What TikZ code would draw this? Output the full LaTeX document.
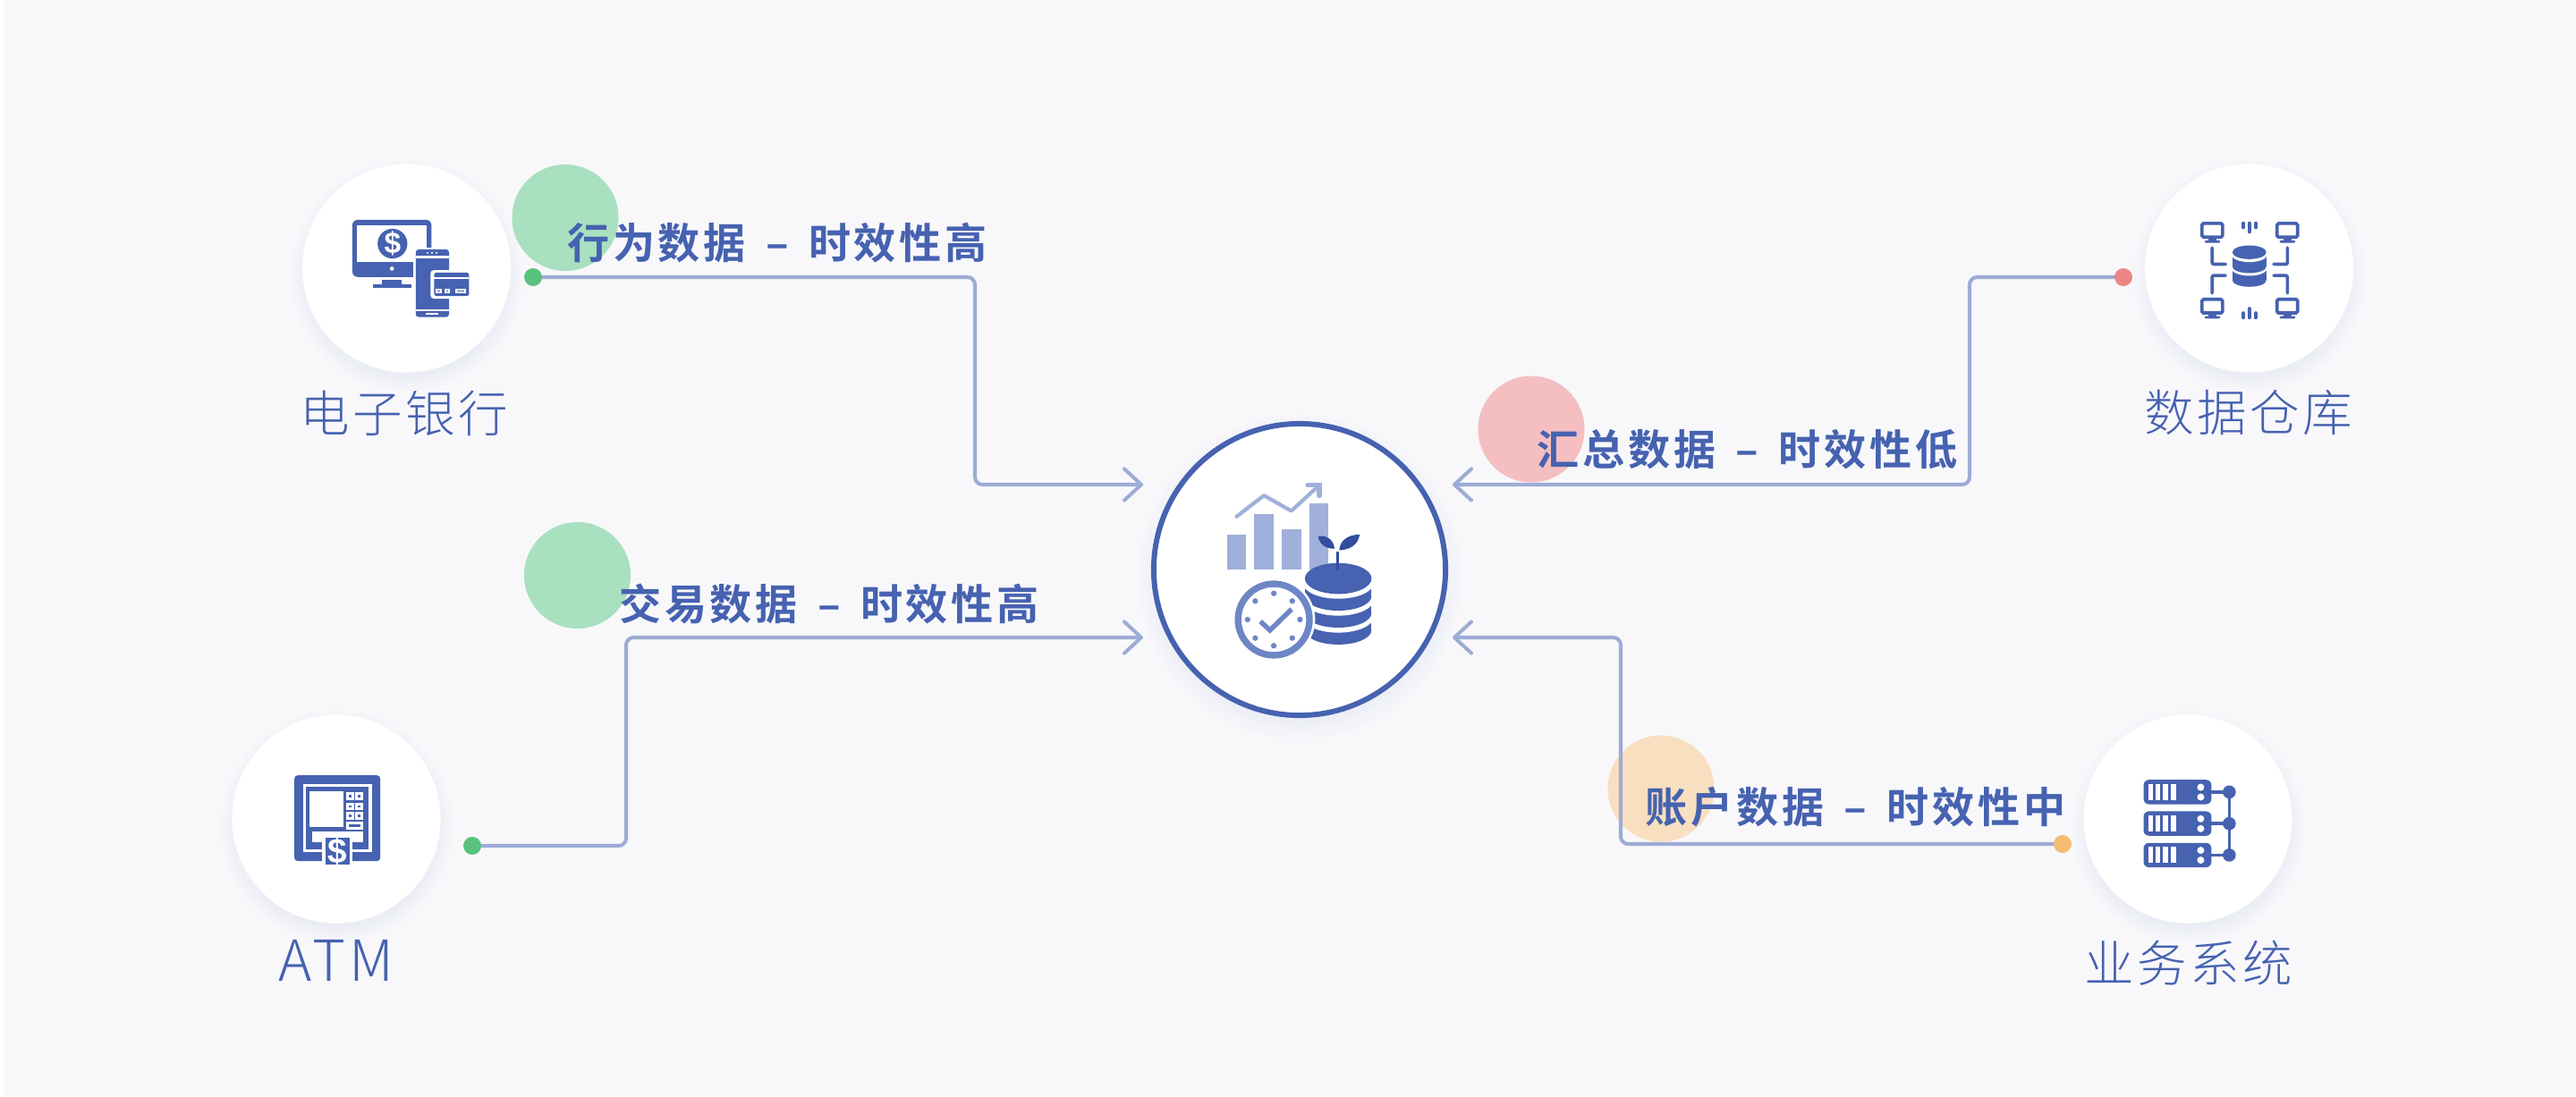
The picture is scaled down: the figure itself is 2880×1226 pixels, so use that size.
\documentclass[tikz,border=0pt]{standalone}
\usepackage{fontspec}
\usetikzlibrary{arrows.meta,shadows}
\setsansfont{Liberation Sans}
\newfontfamily\edgefont[UprightFont=* Bold,LetterSpace=8]{Noto Sans CJK SC}
\newfontfamily\hubfont[UprightFont=* Light,LetterSpace=6]{Noto Sans CJK SC}
\definecolor{pagebg}{HTML}{F8F8FB}
\definecolor{mainblue}{HTML}{4662B0}
\definecolor{linkblue}{HTML}{9DACD5}
\definecolor{palebar}{HTML}{A0B0DA}
\definecolor{clockblue}{HTML}{6E86C5}
\definecolor{leafblue}{HTML}{304D9F}
\newcommand{\gapdash}{\hspace{2.2pt} – \hspace{2.2pt}}
\tikzset{
	hub/.style={circle,fill=white,inner sep=0pt,minimum size=2.33cm,
		circular drop shadow={shadow xshift=0pt,shadow yshift=-2pt,shadow scale=1.12,fill=mainblue,opacity=.07}},
	hubtext/.style={text=mainblue,font=\hubfont\fontsize{15.8pt}{18pt}\selectfont,inner sep=0pt},
	edgetext/.style={text=mainblue,font=\edgefont\fontsize{13.4pt}{16pt}\selectfont,inner sep=0pt},
	blob/.style={circle,inner sep=0pt,minimum size=1.19cm},
	dot/.style={circle,inner sep=0pt,minimum size=0.2cm},
	link/.style={draw=linkblue,line width=1.15pt,rounded corners=2.4pt,line cap=round},
	tipped/.style={link,-{Straight Barb[length=5.4pt,width=10pt,line width=1.15pt,round]}},
	icon/.style={x=0.003333cm,y=-0.003333cm},
	iconline/.style={draw=mainblue,line width=1.05pt}
}
\begin{document}
\begin{tikzpicture}[x=0.01cm,y=-0.01cm]
	\useasboundingbox (0,0) rectangle (2880,1226);
	\fill [white] (0,0) rectangle (2880,1226);
	\fill [pagebg] (5,0) rectangle (2880,1226);

	\node [blob,fill={rgb,255:red,169;green,224;blue,191}] (blobbank) at (632,243.5) {};
	\node [blob,fill={rgb,255:red,169;green,224;blue,191}] (blobatm) at (645.5,643.5) {};
	\node [blob,fill={rgb,255:red,245;green,191;blue,193}] (blobstore) at (1712,480) {};
	\node [blob,fill={rgb,255:red,248;green,223;blue,192}] (blobserver) at (1857,882) {};

	\node [hub] (bank) at (454.6,300) {};
	\node [hub] (atm) at (376,916) {};
	\node [hub] (store) at (2514.6,300) {};
	\node [hub] (server) at (2446,916) {};
	\node [hub,draw=mainblue,line width=1.7pt,minimum size=3.26cm] (core) at (1453,637) {};

	\coordinate (tipbank) at (1278,542);
	\coordinate (tipatm) at (1278,713);
	\coordinate (tipstore) at (1624,542);
	\coordinate (tipserver) at (1624,713);
	\coordinate (bendbank) at (1090,426);
	\coordinate (bendatm) at (700,830);
	\coordinate (bendstore) at (2202,426);
	\coordinate (bendserver) at (1812,830);

	\node [dot] (dotbank) at (596,310) {};
	\node [dot] (dotatm) at (528,946) {};
	\node [dot] (dotstore) at (2374,310) {};
	\node [dot] (dotserver) at (2306,944) {};

	\draw [tipped] (dotbank.center) -| (bendbank) |- (tipbank);
	\draw [tipped] (dotatm.center) -| (bendatm) |- (tipatm);
	\draw [tipped] (dotstore.center) -| (bendstore) |- (tipstore);
	\draw [tipped] (dotserver.center) -| (bendserver) |- (tipserver);

	\fill [fill={rgb,255:red,89;green,194;blue,125}] (dotbank) circle [radius=10];
	\fill [fill={rgb,255:red,89;green,194;blue,125}] (dotatm) circle [radius=10];
	\fill [fill={rgb,255:red,238;green,133;blue,133}] (dotstore) circle [radius=10];
	\fill [fill={rgb,255:red,246;green,188;blue,116}] (dotserver) circle [radius=10];

	\node [edgetext] (edgebank) at (869,272) {行为数据\gapdash 时效性高};
	\node [edgetext] (edgeatm) at (927,675) {交易数据\gapdash 时效性高};
	\node [edgetext] (edgestore) at (1953.5,503) {汇总数据\gapdash 时效性低};
	\node [edgetext] (edgeserver) at (2074.5,903) {账户数据\gapdash 时效性中};

	\node [hubtext] (namebank) at (452,462) {电子银行};
	\node [hubtext,font=\hubfont\fontsize{18pt}{20pt}\selectfont] (nameatm) at (376,1074) {ATM};
	\node [hubtext] (namestore) at (2514,462) {数据仓库};
	\node [hubtext] (nameserver) at (2446.5,1077) {业务系统};

	% bank icon
	\begin{scope}[shift={(320,170)},icon]
		\fill [mainblue,rounded corners=1.7pt] (222,228) rectangle (488,420);
		\fill [white] (238,245) rectangle (472,370);
		\fill [mainblue] (357,308) circle [radius=50];
		\node [text=white,font=\sffamily\bfseries\fontsize{9.5pt}{11pt}\selectfont,inner sep=0pt] (bankdollar) at (357,308) {\$};
		\fill [white] (355,392) circle [radius=7];
		\fill [mainblue] (322,430) rectangle (388,446);
		\fill [mainblue] (290,445) rectangle (420,458);
		\fill [white] (427,320) rectangle (555,562);
		\fill [mainblue,rounded corners=1pt] (435,327) rectangle (547,555);
		\fill [white] (435,350) rectangle (547,358);
		\fill [white] (435,530) rectangle (547,535);
		\fill [white] (470,541) rectangle (510,547);
		\foreach \dotx in {475,490,505}
			\fill [white] (\dotx,339) circle [radius=3.5];
		\fill [white,rounded corners=1pt] (485,397) rectangle (622,493);
		\fill [mainblue,rounded corners=.7pt] (497,405) rectangle (614,484);
		\fill [white] (497,420) rectangle (614,428);
		\foreach \padl/\padr in {503/522,531/550,567/605} {
			\fill [white] (\padl,459) rectangle (\padr,476);
			\fill [mainblue] (\padl+6,465) rectangle (\padr-6,470);
		}
	\end{scope}

	% atm icon
	\begin{scope}[shift={(240,790)},icon]
		\fill [mainblue,rounded corners=1pt] (268,232) rectangle (556,520);
		\draw [white,line width=.95pt] (301,265) rectangle (523,485);
		\fill [white] (320,285) rectangle (432,405);
		\foreach \keyy in {289,323,356}
			\foreach \keyx in {442,472} {
				\fill [white] (\keyx,\keyy) rectangle (\keyx+26,\keyy+26);
				\fill [mainblue] (\keyx+9,\keyy+9) rectangle (\keyx+17,\keyy+17);
			}
		\fill [white] (442,388) rectangle (498,415);
		\fill [mainblue] (451,397) rectangle (489,406);
		\fill [white] (328,420) rectangle (498,458);
		\fill [white] (362,432) rectangle (464,525);
		\fill [mainblue] (372,442) rectangle (455,532);
		\node [text=white,font=\sffamily\bfseries\fontsize{11pt}{12pt}\selectfont,inner sep=0pt] (atmdollar) at (413,488) {\$};
	\end{scope}

	% store icon
	\begin{scope}[shift={(2380,170)},icon]
		\foreach \dx/\dy in {0/0,252/0,0/255,252/255} {
			\draw [iconline,rounded corners=.5pt] (246+\dx,240+\dy) rectangle (315+\dx,286+\dy);
			\fill [mainblue] (268+\dx,286+\dy) rectangle (294+\dx,298+\dy);
			\fill [mainblue,rounded corners=.3pt] (255+\dx,297+\dy) rectangle (307+\dx,305+\dy);
		}
		\draw [iconline,line cap=round,rounded corners=.6pt] (280,322) -- (280,377) -- (325,377);
		\draw [iconline,line cap=round,rounded corners=.6pt] (533,322) -- (533,377) -- (487,377);
		\draw [iconline,line cap=round,rounded corners=.6pt] (325,415) -- (280,415) -- (280,474);
		\draw [iconline,line cap=round,rounded corners=.6pt] (487,415) -- (533,415) -- (533,474);
		\foreach \tickx/\ticka/\tickb in {385/239/254,405/239/269,427/239/254,385/541/557,405/526/557,427/541/557}
			\draw [iconline,line cap=round] (\tickx,\ticka) -- (\tickx,\tickb);
		\foreach \off in {46,0} {
			\fill [mainblue] (348,352+\off) rectangle (462,385+\off);
			\fill [mainblue] (405,385+\off) ellipse [x radius=57,y radius=22];
			\fill [white] (405,345+\off) ellipse [x radius=60,y radius=25];
		}
		\fill [mainblue] (405,337) ellipse [x radius=57,y radius=23];
	\end{scope}

	% server icon
	\begin{scope}[shift={(2300,790)},icon]
		\draw [iconline] (578,288) -- (578,500);
		\foreach \off in {0,106,212} {
			\fill [mainblue,rounded corners=1.7pt] (290,247+\off) rectangle (518,329+\off);
			\foreach \barl/\barr in {305/320,329/345,355/372,383/400}
				\fill [white] (\barl,261+\off) rectangle (\barr,315+\off);
			\fill [white] (482,272+\off) circle [radius=12];
			\fill [white] (482,305+\off) circle [radius=12];
			\draw [iconline] (518,288+\off) -- (578,288+\off);
			\fill [mainblue] (578,288+\off) circle [radius=22];
		}
	\end{scope}

	% core icon
	\begin{scope}[shift={(1270,460)},icon]
		\fill [palebar] (306,415) rectangle (371,532);
		\fill [palebar] (398,345) rectangle (463,532);
		\fill [palebar] (490,396) rectangle (555,532);
		\fill [palebar] (582,310) rectangle (647,532);
		\draw [palebar,line width=1.2pt,line cap=round,line join=round] (338,354) -- (430,283) -- (522,335) -- (612,252);
		\draw [palebar,line width=1.5pt,line cap=round] (577,248) -- (616,248) -- (616,284);
		\foreach \off in {114,57,0} {
			\fill [mainblue] (568,595+\off) rectangle (791,622+\off);
			\fill [mainblue] (679.5,622+\off) ellipse [x radius=111.5,y radius=48];
			\fill [white] (679.5,578+\off) ellipse [x radius=118,y radius=52];
		}
		\fill [mainblue] (679.5,562) ellipse [x radius=112,y radius=52];
		\draw [leafblue,line width=.8pt] (677,472) -- (677,535);
		\fill [leafblue] (612,420) .. controls (650,415) and (665,440) .. (667,462) .. controls (635,462) and (615,445) .. (612,420);
		\fill [leafblue] (752,414) .. controls (710,415) and (685,435) .. (683,467) .. controls (720,465) and (745,450) .. (752,414);
		\fill [white] (463,700) circle [radius=139];
		\draw [clockblue,line width=2.1pt] (463,700) circle [radius=120];
		\foreach \ang in {0,45,...,315}
			\fill [clockblue] (463,700) ++(\ang:88) circle [radius=9.5];
		\draw [clockblue,line width=1.55pt] (418,706) -- (450,736) -- (523,665);
	\end{scope}
\end{tikzpicture}
\end{document}
